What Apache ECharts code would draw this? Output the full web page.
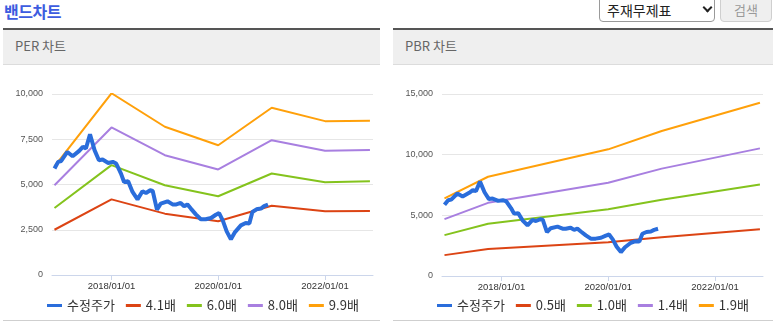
<!DOCTYPE html>
<html><head><meta charset="utf-8">
<script src="https://cdn.jsdelivr.net/npm/echarts@6/dist/echarts.min.js"></script>
<style>
html,body{margin:0;padding:0;width:773px;height:324px;overflow:hidden;background:#fff;font-family:"Noto Sans CJK KR","Noto Sans",sans-serif;}
.a{position:absolute;}
#title{left:4px;top:-1px;font-size:16px;font-weight:bold;color:#3d5ce0;line-height:24px;letter-spacing:-0.5px;}
#sel{left:599px;top:-4px;width:116px;height:26px;border:1px solid #9a9a9a;border-radius:4px;box-sizing:border-box;font-size:14px;color:#222;line-height:26px;padding-left:7px;background:#fff;}
#chev{left:704px;top:4px;width:5px;height:5px;border-right:2px solid #222;border-bottom:2px solid #222;transform:rotate(45deg);}
#btn{left:720px;top:-4px;width:52px;height:26px;border:1px solid #cfcfcf;border-radius:4px;box-sizing:border-box;background:#efefef;color:#9a9a9a;font-size:13px;line-height:26px;text-align:center;}
.bar{top:28px;height:2px;background:#555;}
.hdr{top:30px;height:34px;background:#efefef;border-bottom:1px solid #dcdcdc;font-size:13px;color:#666;line-height:32px;box-sizing:content-box;}
.hdr span{padding-left:12px;}
.bot{top:320px;height:1px;background:#cfcfcf;}
#chart{left:0;top:0;width:773px;height:324px;}
</style></head>
<body>
<div id="title" class="a">밴드차트</div>
<div id="sel" class="a">주재무제표</div>
<div id="chev" class="a"></div>
<div id="btn" class="a">검색</div>
<div class="a bar" style="left:3px;width:377px"></div>
<div class="a bar" style="left:393px;width:380px"></div>
<div class="a hdr" style="left:3px;width:377px"><span>PER 차트</span></div>
<div class="a hdr" style="left:393px;width:380px"><span>PBR 차트</span></div>
<div class="a bot" style="left:3px;width:377px"></div>
<div class="a bot" style="left:393px;width:380px"></div>
<div id="chart" class="a"></div>
<script>
// ---- data ----
const priceDates = ["2016-12-07","2017-01-01","2017-01-22","2017-03-05","2017-04-10","2017-05-25","2017-06-19","2017-07-10","2017-08-07","2017-09-07","2017-10-07","2017-11-01","2017-12-10","2018-01-10","2018-02-02","2018-03-07","2018-03-28","2018-04-25","2018-05-25","2018-06-28","2018-08-01","2018-08-25","2018-09-23","2018-10-10","2018-11-08","2018-12-04","2019-01-19","2019-02-23","2019-03-16","2019-04-19","2019-05-13","2019-06-04","2019-06-28","2019-08-01","2019-09-04","2019-10-07","2019-11-13","2019-12-16","2020-01-07","2020-02-01","2020-02-28","2020-03-28","2020-04-25","2020-06-04","2020-07-07","2020-08-01","2020-08-22","2020-09-19","2020-10-19","2020-11-10","2020-12-07"];
const priceValues = [5880,6250,6300,6800,6560,6860,7080,6990,7780,6900,6340,6380,6190,6250,6160,5600,5140,5180,4590,4180,4630,4530,4680,4640,3610,3940,4070,3900,3890,3980,3800,3900,3670,3350,3080,3080,3150,3330,3420,3020,2410,1970,2370,2740,2870,2840,3480,3630,3670,3800,3890];

const perDates = ["2016-12-07","2018-01-01","2019-01-01","2020-01-01","2021-01-01","2022-01-01","2022-11-04"];
const perNames = ["4.1배","6.0배","8.0배","9.9배"];
const per41 = [2500,4180,3390,2970,3830,3520,3530];
const per60 = [3700,6070,4960,4350,5610,5120,5180];
const per80 = [4960,8150,6620,5830,7450,6860,6900];
const per99 = [6000,10040,8190,7170,9240,8500,8520];

const pbrDates = ["2016-12-07","2017-10-01","2020-01-01","2021-01-01","2022-11-04"];
const pbrNames = ["0.5배","1.0배","1.4배","1.9배"];
const pbr05 = [1720,2220,2780,3200,3860];
const pbr10 = [3370,4310,5500,6290,7550];
const pbr14 = [4690,6030,7690,8850,10520];
const pbr19 = [6400,8180,10440,11950,14280];

const priceName = "수정주가";
const xTickLabels = ["2018-01-01","2020-01-01","2022-01-01"];
const perYTicks = {min:0, max:10000, interval:2500};
const pbrYTicks = {min:0, max:15000, interval:5000};

// ---- styling ----
const colors = {price:'#2a6ddb', c1:'#dc4414', c2:'#84c31d', c3:'#a87fe0', c4:'#ffa00a'};
const bandColors = [colors.c1, colors.c2, colors.c3, colors.c4];
function toTs(s){const p=s.split('-').map(Number);return Date.UTC(p[0],p[1]-1,p[2]);}
const tickVals = xTickLabels.map(toTs);
const xMin = toTs("2016-11-20"), xMax = toTs("2022-11-25");
function pad(n){return (n<10?'0':'')+n;}
function fmtDate(v){const d=new Date(v);return d.getUTCFullYear()+'/'+pad(d.getUTCMonth()+1)+'/'+pad(d.getUTCDate());}
function zip(ds,vs){return ds.map((d,i)=>[toTs(d),vs[i]]);}

const xAxis=[0,1].map(i=>({type:'value',gridIndex:i,min:xMin,max:xMax,
  axisLine:{show:true,onZero:false,lineStyle:{color:'#ccd6eb',width:1}},
  axisTick:{show:true,customValues:tickVals,length:5,lineStyle:{color:'#ccd6eb'}},
  axisLabel:{customValues:tickVals,formatter:fmtDate,color:'#333',fontSize:9.5,margin:6,fontFamily:'Liberation Sans'},
  splitLine:{show:false}}));
const yAxis=[perYTicks,pbrYTicks].map((t,i)=>({type:'value',gridIndex:i,min:t.min,max:t.max,interval:t.interval,
  axisLine:{show:false},axisTick:{show:false},
  axisLabel:{color:'#555',fontSize:9,margin:9,fontFamily:'Liberation Sans',formatter:v=>v.toLocaleString('en-US')},
  splitLine:{lineStyle:{color:'#e6e6e6',width:1}}}));

function lineSeries(name,data,idx,color,width,z){
  return {type:'line',name:name,xAxisIndex:idx,yAxisIndex:idx,data:data,symbol:'none',
    lineStyle:{color:color,width:width},itemStyle:{color:color},z:z,animation:false};
}
const series=[];
const perBands=[per41,per60,per80,per99];
const pbrBands=[pbr05,pbr10,pbr14,pbr19];
perBands.forEach((vals,k)=>series.push(lineSeries(perNames[k],zip(perDates,vals),0,bandColors[k],2,2)));
pbrBands.forEach((vals,k)=>series.push(lineSeries(pbrNames[k],zip(pbrDates,vals),1,bandColors[k],2,2)));
series.push(lineSeries(priceName,zip(priceDates,priceValues),0,colors.price,4,5));
series.push(lineSeries(priceName,zip(priceDates,priceValues),1,colors.price,4,5));

function legendData(names){
  return [{name:priceName,icon:'rect',itemStyle:{color:colors.price}}]
    .concat(names.map((n,k)=>({name:n,icon:'rect',itemStyle:{color:bandColors[k]}})));
}
const legendBase={top:294,itemWidth:15,itemHeight:3,itemGap:11,
  textStyle:{fontSize:13,color:'#333',fontFamily:'Noto Sans CJK KR'}};
const chart=echarts.init(document.getElementById('chart'),null,{renderer:'canvas'});
chart.setOption({
  backgroundColor:'transparent',
  animation:false,
  textStyle:{fontFamily:'Noto Sans CJK KR'},
  grid:[{left:52,right:400,top:94,bottom:49},{left:442,right:10,top:94,bottom:48}],
  xAxis:xAxis,yAxis:yAxis,
  legend:[Object.assign({left:42,data:legendData(perNames)},legendBase),
          Object.assign({left:432,data:legendData(pbrNames)},legendBase)],
  series:series
});
</script>
</body></html>
